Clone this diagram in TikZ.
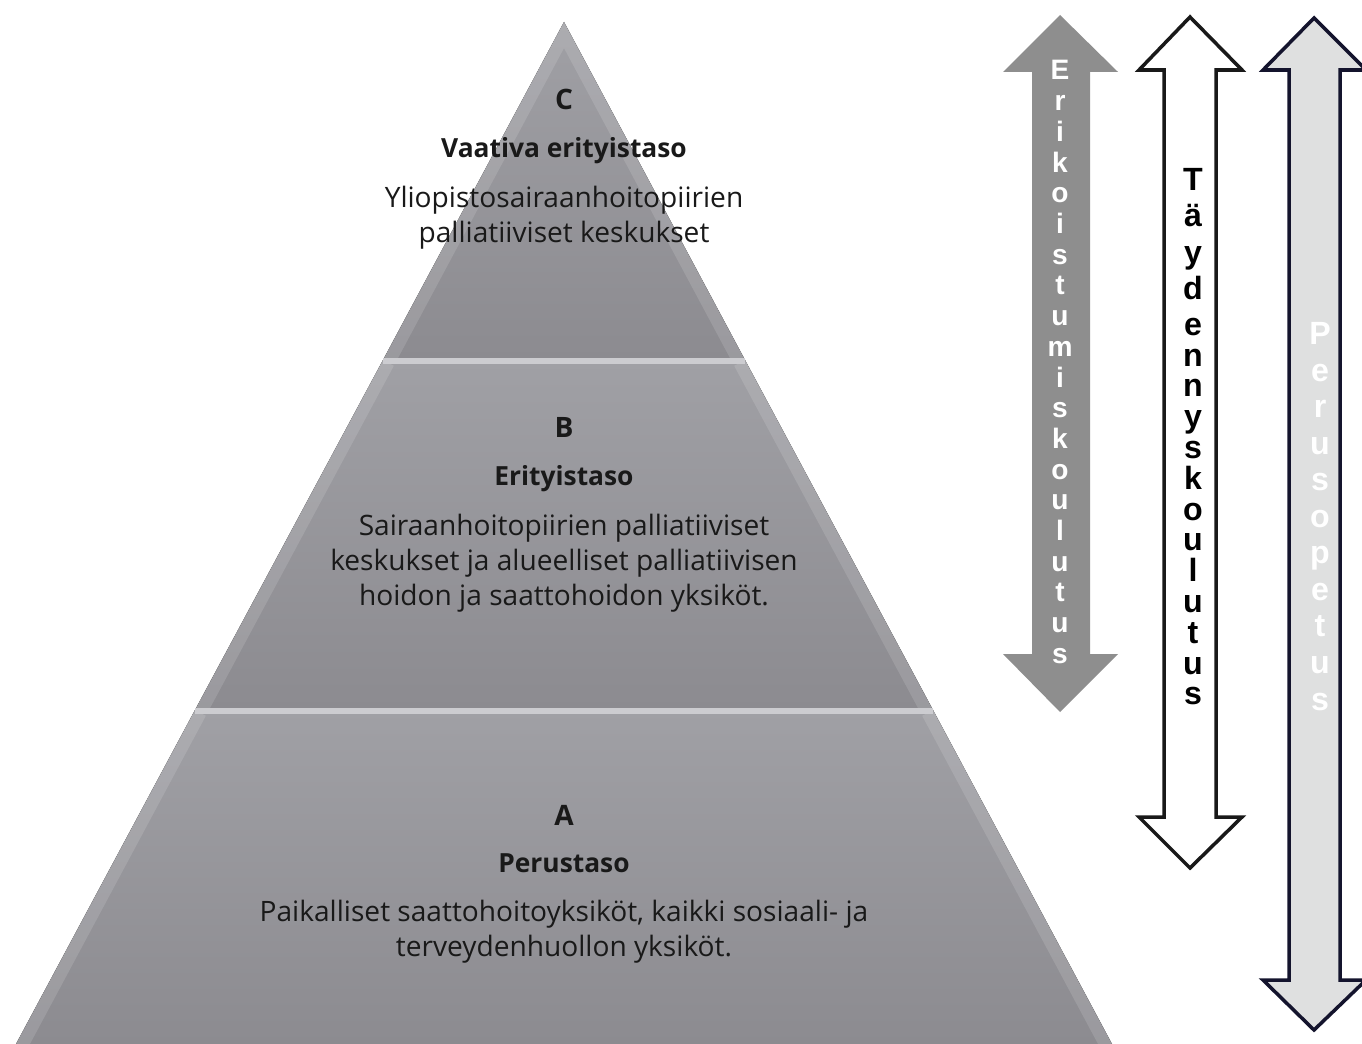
\documentclass[tikz,border=0pt]{standalone}
\usepackage{fontspec}
\setmainfont{Open Sans}
\newfontfamily\nuolifont{Liberation Sans}

\definecolor{tasoyla}{RGB}{160,160,165}
\definecolor{tasoala}{RGB}{140,139,144}
\definecolor{sauma}{RGB}{204,204,208}
\definecolor{erikharmaa}{RGB}{142,142,142}
\definecolor{perusharmaa}{RGB}{223,224,224}
\definecolor{perusreuna}{RGB}{20,20,45}

\tikzset{
	taso/.style={top color=tasoyla, bottom color=tasoala, draw=none},
	reunavalo/.style={white, opacity=0.13, line width=14},
	tasokirjain/.style={font=\fontsize{16}{20}\selectfont\bfseries, text=black!90, anchor=base, inner sep=0pt},
	tasonimi/.style={font=\fontsize{15}{20}\selectfont\bfseries, text=black!90, anchor=base, inner sep=0pt},
	tasokuvaus/.style={font=\fontsize{16}{20}\selectfont, text=black!90, align=center, inner sep=0pt},
	pystykirjain/.style={font=\nuolifont\bfseries\fontsize{16}{18}\selectfont, anchor=base, inner sep=0pt}
}

\begin{document}
\begin{tikzpicture}[x=0.02cm, y=-0.02cm]
	\useasboundingbox (0,0) rectangle (1362,1044);
	\clip (0,0) rectangle (1362,1044);
	
	% Pyramidin tasot
	\fill[taso] (564,22) -- (745,360) -- (383,360) -- cycle;
	\fill[taso] (383,360) -- (745,360) -- (933,710) -- (195,710) -- cycle;
	\fill[taso] (195,710) -- (933,710) -- (1112,1044) -- (16,1044) -- cycle;
	
	% Vaalea reuna tasojen viistoilla sivuilla
	\begin{scope}
		\clip (564,22) -- (745,360) -- (383,360) -- cycle;
		\draw[reunavalo] (564,22) -- (745,360) (564,22) -- (383,360);
	\end{scope}
	\begin{scope}
		\clip (383,360) -- (745,360) -- (933,710) -- (195,710) -- cycle;
		\draw[reunavalo] (745,360) -- (933,710) (383,360) -- (195,710);
	\end{scope}
	\begin{scope}
		\clip (195,710) -- (933,710) -- (1112,1044) -- (16,1044) -- cycle;
		\draw[reunavalo] (933,710) -- (1112,1044) (195,710) -- (16,1044);
	\end{scope}
	
	% Saumat tasojen välissä
	\draw[sauma, line width=3] (383,361) -- (745,361);
	\draw[sauma, line width=3] (195,711) -- (933,711);
	
	% Taso C
	\node[tasokirjain] (c) at (564,110) {C};
	\node[tasonimi] (cnimi) at (564,158) {Vaativa erityistaso};
	\node[tasokuvaus] (ckuvaus) at (564,218) {Yliopistosairaanhoitopiirien\\palliatiiviset keskukset};
	
	% Taso B
	\node[tasokirjain] (b) at (564,437) {B};
	\node[tasonimi] (bnimi) at (564,485) {Erityistaso};
	\node[tasokuvaus] (bkuvaus) at (564,563) {Sairaanhoitopiirien palliatiiviset\\keskukset ja alueelliset palliatiivisen\\hoidon ja saattohoidon yksiköt.};
	
	% Taso A
	\node[tasokirjain] (a) at (564,825) {A};
	\node[tasonimi] (animi) at (564,872) {Perustaso};
	\node[tasokuvaus] (akuvaus) at (564,932) {Paikalliset saattohoitoyksiköt, kaikki sosiaali- ja\\terveydenhuollon yksiköt.};
	
	% Nuolet
	\fill[erikharmaa] (1060,15) -- (1118,72) -- (1090,72) -- (1090,654) -- (1118,654) -- (1060,712)
		-- (1003,654) -- (1032,654) -- (1032,72) -- (1003,72) -- cycle;
	\draw[black!90, line width=2, fill=white] (1190,17) -- (1242,70) -- (1216,70) -- (1216,817) -- (1242,817) -- (1190,868)
		-- (1139,817) -- (1164,817) -- (1164,70) -- (1139,70) -- cycle;
	\draw[perusreuna, line width=2, fill=perusharmaa] (1314,18) -- (1366,70) -- (1340,70) -- (1340,980) -- (1366,980) -- (1314,1030)
		-- (1263,980) -- (1289,980) -- (1289,70) -- (1263,70) -- cycle;
	
	% Nuolten tekstit kirjain kerrallaan
	\foreach \k [count=\i] in {E,r,i,k,o,i,s,t,u,m,i,s,k,o,u,l,u,t,u,s}
		\node[pystykirjain, text=white] (erik\i) at (1060,{80+30.7*(\i-1)}) {\k};
	\foreach \k [count=\i] in {T,ä,y,d,e}
		\node[pystykirjain, font=\nuolifont\bfseries\fontsize{18.3}{20}\selectfont] (tay\i) at (1193,{191+36*(\i-1)}) {\k};
	\foreach \k [count=\i] in {n,n,y,s,k,o,u,l,u,t,u,s}
		\node[pystykirjain, font=\nuolifont\bfseries\fontsize{18.3}{20}\selectfont] (tayd\i) at (1193,{366+30.8*(\i-1)}) {\k};
	\foreach \k [count=\i] in {P,e,r,u,s,o,p,e,t,u,s}
		\node[pystykirjain, text=white, font=\nuolifont\bfseries\fontsize{18.3}{20}\selectfont] (perus\i) at (1320,{344.5+36.55*(\i-1)}) {\k};
\end{tikzpicture}
\end{document}
